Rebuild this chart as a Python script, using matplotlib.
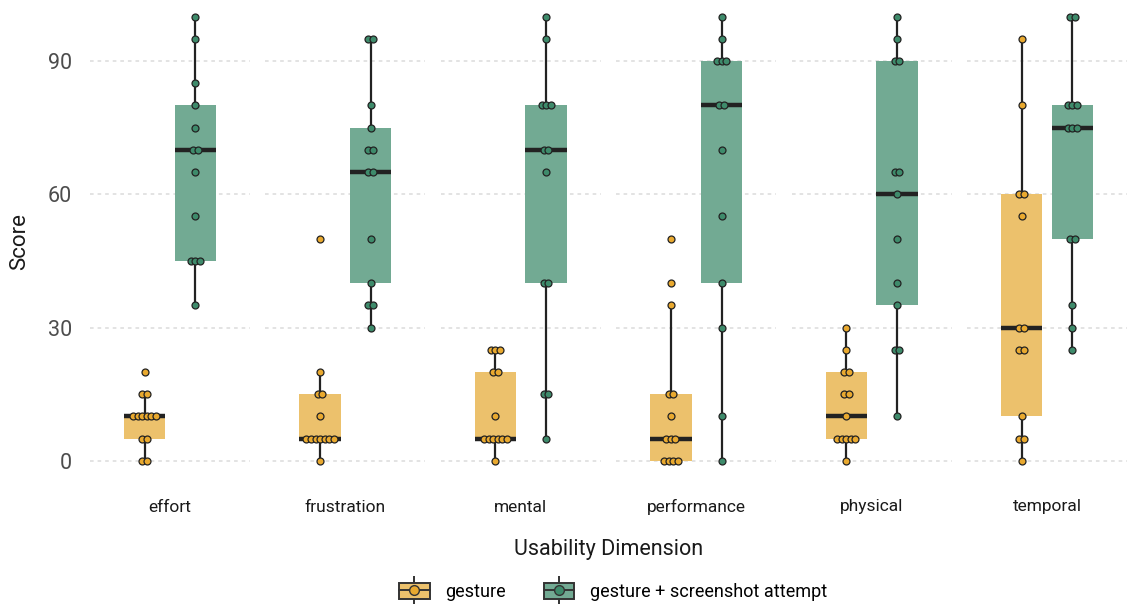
import matplotlib
matplotlib.use("Agg")
import numpy as np
import matplotlib.pyplot as plt
from matplotlib.patches import Patch
from matplotlib.lines import Line2D
from matplotlib.legend_handler import HandlerTuple

plt.rcParams['font.family'] = ['Roboto', 'DejaVu Sans']

dims = ["effort", "frustration", "mental", "performance", "physical", "temporal"]
groups = ["gesture", "gesture + screenshot attempt"]

# scores, 13 per box
gesture = {
    "effort":      [0, 0, 5, 5, 10, 10, 10, 10, 10, 10, 15, 15, 20],
    "frustration": [0, 5, 5, 5, 5, 5, 5, 5, 10, 15, 15, 20, 50],
    "mental":      [0, 5, 5, 5, 5, 5, 5, 10, 20, 20, 25, 25, 25],
    "performance": [0, 0, 0, 0, 5, 5, 5, 10, 15, 15, 35, 40, 50],
    "physical":    [0, 5, 5, 5, 5, 5, 10, 15, 15, 20, 20, 25, 30],
    "temporal":    [0, 5, 5, 10, 25, 25, 30, 30, 55, 60, 60, 80, 95],
}
screenshot = {
    "effort":      [35, 45, 45, 45, 55, 65, 70, 70, 75, 80, 85, 95, 100],
    "frustration": [30, 35, 35, 40, 50, 65, 65, 70, 70, 75, 80, 95, 95],
    "mental":      [5, 15, 15, 40, 40, 65, 70, 70, 80, 80, 80, 95, 100],
    "performance": [0, 10, 30, 40, 55, 70, 80, 80, 90, 90, 90, 95, 100],
    "physical":    [10, 25, 25, 35, 40, 50, 60, 65, 65, 90, 90, 95, 100],
    "temporal":    [25, 30, 35, 50, 50, 75, 75, 75, 80, 80, 80, 100, 100],
}

box_cols = ["#ECC16C", "#72AA93"]
pt_cols = ["#E9A92F", "#3E8B6B"]
dark = "#222222"

W, H = 1127, 607
fig = plt.figure(figsize=(W / 100, H / 100), dpi=100)

pos = [-0.19, 0.19]
spread = 0.034

for i, d in enumerate(dims):
    ax = fig.add_axes([(90 + i * 175.4) / W, 1 - 483 / H, 160 / W, 483 / H])
    data = [gesture[d], screenshot[d]]
    bp = ax.boxplot(data, positions=pos, widths=0.31, whis=1.5, showfliers=False,
                    showcaps=False, patch_artist=True, manage_ticks=False,
                    boxprops=dict(linewidth=0),
                    whiskerprops=dict(color=dark, linewidth=1.6),
                    medianprops=dict(color=dark, linewidth=3.2, solid_capstyle='butt'))
    for b, c in zip(bp['boxes'], box_cols):
        b.set_facecolor(c)
        b.set_edgecolor(c)
    # points, ties spread side by side
    for j, vals in enumerate(data):
        vals = np.array(vals)
        xs = []
        ys = []
        for v in np.unique(vals):
            k = int((vals == v).sum())
            for r in range(k):
                xs.append(pos[j] + (r - (k - 1) / 2) * spread)
                ys.append(v)
        ax.plot(xs, ys, 'o', ms=5.0, mfc=pt_cols[j], mec=dark, mew=0.9,
                linestyle='none', zorder=5)

    ax.set_xlim(-0.6, 0.6)
    ax.set_ylim(-5, 461 / (400 / 90))
    ax.set_yticks([0, 30, 60, 90])
    ax.yaxis.grid(True, linestyle=(0, (2, 2.2)), color='#E0E0E0', linewidth=1.3)
    ax.set_axisbelow(True)
    ax.set_xticks([])
    for s in ax.spines.values():
        s.set_visible(False)
    ax.tick_params(axis='y', length=0, pad=13, labelsize=15.5, labelcolor='#4D4D4D')
    if i > 0:
        ax.set_yticklabels([])
    fig.text((90 + i * 175.4 + 80) / W, 1 - 507 / H, d, ha='center', va='center',
             fontsize=12.5, color='#1A1A1A')

fig.text(20 / W, 1 - 241 / H, "Score", rotation=90, ha='center', va='center',
         fontsize=16, color='#1A1A1A')
fig.text(609 / W, 1 - 550 / H, "Usability Dimension", ha='center', va='center',
         fontsize=15.5, color='#1A1A1A')

# legend keys drawn like ggplot box glyphs
handles = []
for j in range(2):
    rect = Patch(facecolor=box_cols[j], edgecolor='#333333', linewidth=1.4)
    whisk = Line2D([], [], marker='|', ms=20, mew=1.4, color='#333333', linestyle='none')
    med = Line2D([], [], color='#333333', linewidth=1.4, marker='o', ms=7,
                 mfc=pt_cols[j], mec='#333333', mew=1.0)
    handles.append((whisk, rect, med))

fig.legend(handles, groups, loc='center', bbox_to_anchor=(613 / W, 1 - 592 / H),
           ncol=2, frameon=False, fontsize=13, handlelength=1.7, handleheight=0.95,
           handletextpad=0.85, columnspacing=2.1, numpoints=1,
           handler_map={tuple: HandlerTuple(ndivide=1, pad=0)})

fig.savefig("out.png", dpi=100)
